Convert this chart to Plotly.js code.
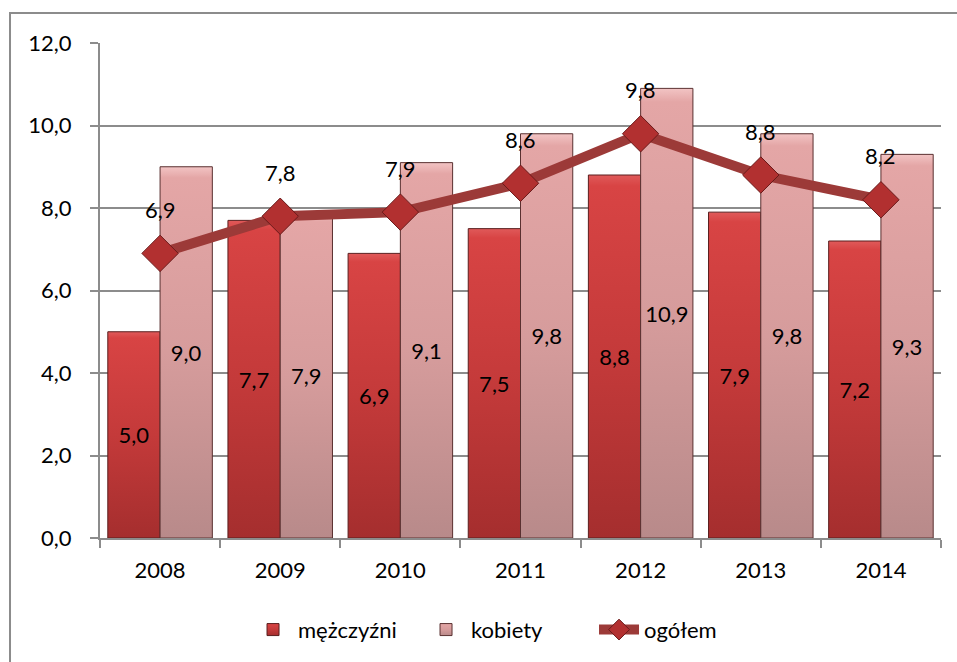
<!DOCTYPE html>
<html>
<head>
<meta charset="utf-8">
<script src="https://cdn.plot.ly/plotly-3.0.1.min.js"></script>
<style>
html,body{margin:0;padding:0;background:#fff;}
#chart{width:957px;height:662px;}
</style>
</head>
<body>
<div id="chart"></div>
<script>
var years = ['2008','2009','2010','2011','2012','2013','2014'];
var mezczyzni = [5.0, 7.7, 6.9, 7.5, 8.8, 7.9, 7.2];
var kobiety = [9.0, 7.9, 9.1, 9.8, 10.9, 9.8, 9.3];
var ogolem = [6.9, 7.8, 7.9, 8.6, 9.8, 8.8, 8.2];
var yTicks = [0, 2, 4, 6, 8, 10, 12];

var FONT = 'Lato, "Open Sans", sans-serif';
var FS = 22;
var fmt = function(v){ return v.toFixed(1).replace('.', ','); };

var traces = [
  {
    type: 'bar', name: 'mężczyźni', x: years, y: mezczyzni,
    marker: {color: '#C93B3B', line: {color: '#5A1E1E', width: 1}},
    text: mezczyzni.map(fmt), textposition: 'inside', insidetextanchor: 'middle',
    textfont: {family: FONT, size: FS, color: '#000'}, hoverinfo: 'none'
  },
  {
    type: 'bar', name: 'kobiety', x: years, y: kobiety,
    marker: {color: '#D69C9C', line: {color: '#5A3030', width: 1}},
    text: kobiety.map(fmt), textposition: 'inside', insidetextanchor: 'middle',
    textfont: {family: FONT, size: FS, color: '#000'}, hoverinfo: 'none'
  },
  {
    type: 'scatter', mode: 'lines+markers', name: 'ogółem', x: years, y: ogolem,
    line: {color: '#9C3A38', width: 10},
    marker: {symbol: 'diamond', size: 28, color: '#B23030', line: {color: '#6A1A1A', width: 1}},
    hoverinfo: 'none'
  }
];

// category axis: annotation x given as the category index
var annotations = years.map(function(yr, i){
  return {x: i, y: ogolem[i], xref: 'x', yref: 'y', text: fmt(ogolem[i]), showarrow: false, yshift: 44,
          font: {family: FONT, size: FS, color: '#000'}};
});

var layout = {
  width: 957, height: 662,
  margin: {l: 100, r: 16, t: 43, b: 123},
  paper_bgcolor: '#fff', plot_bgcolor: '#fff',
  font: {family: FONT, size: FS, color: '#000'},
  barmode: 'group', bargap: 0.13, bargroupgap: 0,
  showlegend: true,
  legend: {orientation: 'h', x: 0.176, xanchor: 'left', y: -0.183, yanchor: 'middle',
           entrywidth: 118, entrywidthmode: 'pixels',
           font: {family: FONT, size: FS, color: '#000'}, itemwidth: 40, traceorder: 'normal'},
  xaxis: {type: 'category', showgrid: false, showline: true,
          linecolor: '#8c8c8c', linewidth: 2,
          ticks: 'outside', tickson: 'boundaries', ticklen: 8, tickcolor: '#8c8c8c', tickwidth: 2,
          tickangle: 0, ticklabelstandoff: 12, tickfont: {family: FONT, size: FS, color: '#000'}},
  yaxis: {range: [0, 12], tickmode: 'array', tickvals: yTicks, ticktext: yTicks.map(fmt), showgrid: true,
          gridcolor: '#8c8c8c', gridwidth: 2,
          showline: true, linecolor: '#8c8c8c', linewidth: 2, ticks: 'outside', ticklen: 8,
          tickcolor: '#8c8c8c', tickwidth: 2, ticklabelstandoff: 14, zeroline: false,
          tickfont: {family: FONT, size: FS, color: '#000'}},
  annotations: annotations,
  shapes: [{type: 'rect', xref: 'paper', yref: 'paper', x0: -0.107, x1: 1.03, y0: -0.26, y1: 1.0605,
            line: {color: '#8c8c8c', width: 2}, fillcolor: 'rgba(0,0,0,0)', layer: 'below'}]
};

function addGradients(gd){
  var svg = gd.querySelector('svg.main-svg');
  if (!svg) return;
  var NS = 'http://www.w3.org/2000/svg';
  var defs = svg.querySelector('defs') || svg.insertBefore(document.createElementNS(NS, 'defs'), svg.firstChild);
  function grad(id, stops){
    var g = document.createElementNS(NS, 'linearGradient');
    g.setAttribute('id', id); g.setAttribute('x1', '0'); g.setAttribute('y1', '0');
    g.setAttribute('x2', '0'); g.setAttribute('y2', '1');
    stops.forEach(function(s){
      var st = document.createElementNS(NS, 'stop');
      st.setAttribute('offset', s[0]); st.setAttribute('stop-color', s[1]);
      g.appendChild(st);
    });
    defs.appendChild(g);
  }
  grad('gMen', [['0', '#E05A5A'], ['0.03', '#D84444'], ['0.5', '#C43A3A'], ['1', '#A52E2E']]);
  grad('gWom', [['0', '#F2C4C4'], ['0.03', '#E4A6A6'], ['0.5', '#D69C9C'], ['1', '#B88A8A']]);
  var ids = ['gMen', 'gWom'];
  var barTraces = gd.querySelectorAll('.barlayer .trace');
  barTraces.forEach(function(t, k){
    t.querySelectorAll('.point path').forEach(function(p){ p.style.fill = 'url(#' + ids[k] + ')'; });
  });
  var legendTraces = gd.querySelectorAll('.legend .traces');
  legendTraces.forEach(function(t, k){
    if (k < 2) t.querySelectorAll('.legendpoints path').forEach(function(p){ p.style.fill = 'url(#' + ids[k] + ')'; });
  });
}

Plotly.newPlot('chart', traces, layout, {staticPlot: true}).then(function(gd){ addGradients(gd); });
</script>
</body>
</html>
